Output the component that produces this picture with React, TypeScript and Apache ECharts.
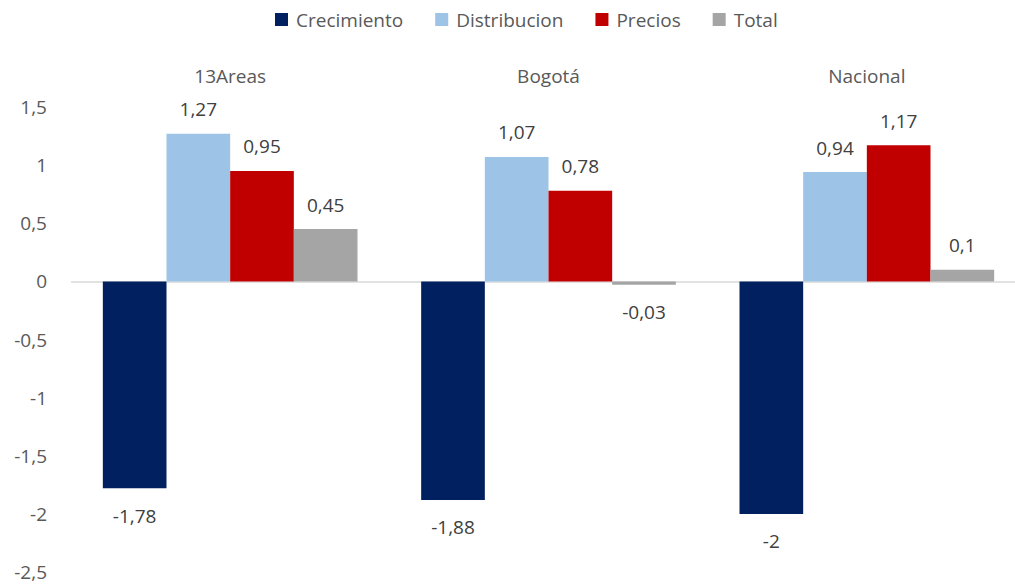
import React, { useEffect, useRef } from "react";
import * as echarts from "echarts";

const categories = ["13Areas", "Bogotá", "Nacional"];
const seriesNames = ["Crecimiento", "Distribucion", "Precios", "Total"];
const crecimiento = [-1.78, -1.88, -2];
const distribucion = [1.27, 1.07, 0.94];
const precios = [0.95, 0.78, 1.17];
const total = [0.45, -0.03, 0.1];
const colors = ["#002060", "#9DC3E6", "#C00000", "#A5A5A5"];

const FONT = '"Open Sans", sans-serif';
const fmt = (v: number) => String(v).replace(".", ",");

export default function App() {
  const ref = useRef<HTMLDivElement>(null);
  useEffect(() => {
    if (!ref.current) return;
    const chart = echarts.init(ref.current, null, { renderer: "svg" });
    const values = [crecimiento, distribucion, precios, total];
    chart.setOption({
      animation: false,
      textStyle: { fontFamily: FONT },
      legend: {
        top: 5,
        left: 270,
        itemWidth: 13,
        itemHeight: 13,
        itemGap: 32,
        icon: "rect",
        textStyle: { fontSize: 19, color: "#595959", fontFamily: FONT, padding: [0, 0, 0, 3] },
        data: seriesNames,
      },
      grid: { left: 71, top: 107, width: 955, height: 465 },
      xAxis: {
        type: "category",
        data: categories,
        position: "top",
        axisLine: { show: false },
        axisTick: { show: false },
        axisLabel: { margin: 22, fontSize: 19, color: "#595959", fontFamily: FONT },
      },
      yAxis: {
        type: "value",
        min: -2.5,
        max: 1.5,
        interval: 0.5,
        splitLine: { show: false },
        axisLine: { show: false },
        axisTick: { show: false },
        axisLabel: {
          margin: 24,
          fontSize: 19,
          color: "#595959",
          fontFamily: FONT,
          formatter: (v: number) => fmt(v),
        },
      },
      series: seriesNames.map((name, i) => ({
        name,
        type: "bar",
        barGap: "0%",
        barCategoryGap: "20%",
        itemStyle: { color: colors[i] },
        label: {
          show: true,
          fontSize: 19,
          color: "#404040",
          fontFamily: FONT,
          formatter: (p: any) => fmt(p.value),
        },
        data: values[i].map((v) => ({
          value: v,
          label: { position: v < 0 ? "bottom" : "top", distance: v < 0 ? 18 : 15 },
        })),
        markLine:
          i === 0
            ? {
                silent: true,
                symbol: "none",
                label: { show: false },
                lineStyle: { color: "#d9d9d9", type: "solid", width: 1.5 },
                data: [{ yAxis: 0 }],
                z: 1,
              }
            : undefined,
      })),
    });
    return () => chart.dispose();
  }, []);
  return (
    <div style={{ position: "absolute", left: 0, top: 0, width: 1015, height: 584, overflow: "hidden" }}>
      <div ref={ref} style={{ width: 1030, height: 584 }} />
    </div>
  );
}
